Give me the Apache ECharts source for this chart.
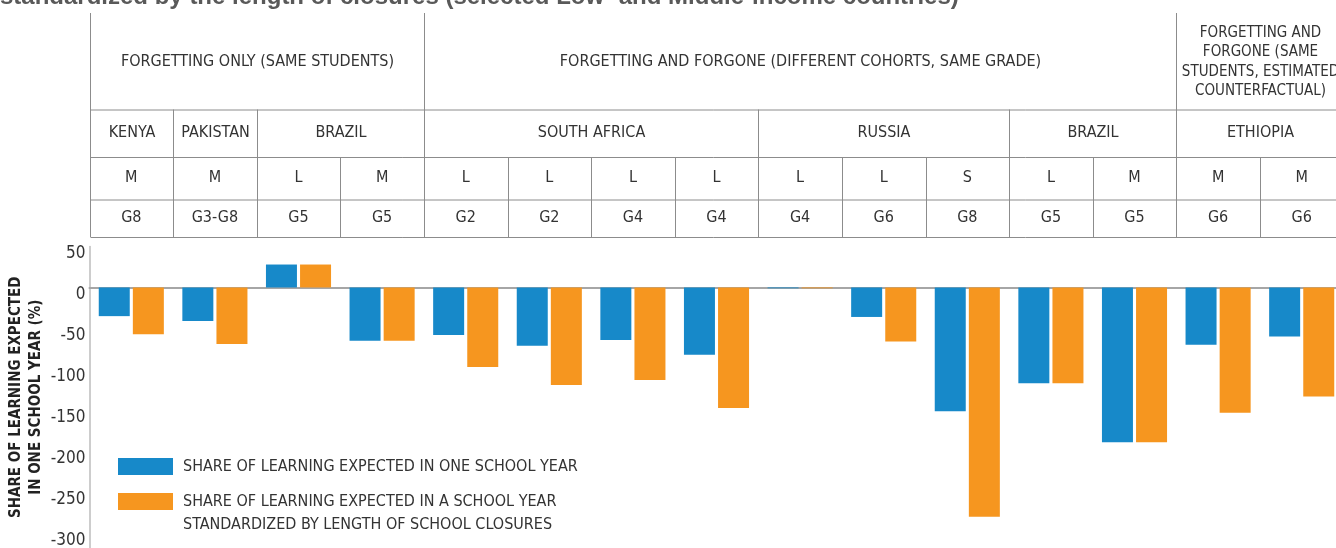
<!DOCTYPE html>
<html>
<head>
<meta charset="utf-8">
<script src="https://cdn.jsdelivr.net/npm/echarts@6/dist/echarts.min.js"></script>
<style>
  html, body { margin: 0; padding: 0; background: #fff; }
  #chart { width: 1336px; height: 548px; }
</style>
</head>
<body>
<div id="chart"></div>
<script>
// data
var categories = ['Kenya M G8', 'Pakistan M G3-G8', 'Brazil L G5', 'Brazil M G5',
  'South Africa L G2', 'South Africa L G2 ', 'South Africa L G4', 'South Africa L G4 ',
  'Russia L G4', 'Russia L G6', 'Russia S G8', 'Brazil L G5 ', 'Brazil M G5 ',
  'Ethiopia M G6', 'Ethiopia M G6 '];
var oneYearShare = [-35, -41, 28, -65, -58, -71, -64, -82, -1, -36, -151, -117, -189, -70, -60];
var standardizedShare = [-57, -69, 28, -65, -97, -119, -113, -147, -1, -66, -280, -117, -189, -153, -133];

// header table
var groupLabels = ['FORGETTING ONLY (SAME STUDENTS)',
  'FORGETTING AND FORGONE (DIFFERENT COHORTS, SAME GRADE)',
  'FORGETTING AND\nFORGONE (SAME\nSTUDENTS, ESTIMATED\nCOUNTERFACTUAL)'];
var groupSpans = [4, 9, 2];
var countryLabels = ['KENYA', 'PAKISTAN', 'BRAZIL', 'SOUTH AFRICA', 'RUSSIA', 'BRAZIL', 'ETHIOPIA'];
var countrySpans = [1, 1, 2, 4, 3, 2, 2];
var closureLengths = ['M', 'M', 'L', 'M', 'L', 'L', 'L', 'L', 'L', 'L', 'S', 'L', 'M', 'M', 'M'];
var grades = ['G8', 'G3-G8', 'G5', 'G5', 'G2', 'G2', 'G4', 'G4', 'G4', 'G6', 'G8', 'G5', 'G5', 'G6', 'G6'];
var yTicks = [50, 0, -50, -100, -150, -200, -250, -300];

var seriesNames = ['SHARE OF LEARNING EXPECTED IN ONE SCHOOL YEAR',
  'SHARE OF LEARNING EXPECTED IN A SCHOOL YEAR\nSTANDARDIZED BY LENGTH OF SCHOOL CLOSURES'];

var FONT = '"DejaVu Sans Condensed", "Liberation Sans Narrow", sans-serif';
var TEXT = '#333333';
var LINE = '#8c8c8c';

var chart = echarts.init(document.getElementById('chart'), null, { renderer: 'canvas' });

// shared legend look; one legend per item so the two-line label can hang below its swatch
var legendBase = {
  orient: 'vertical',
  left: 118,
  padding: 0,
  itemWidth: 55,
  itemHeight: 17,
  icon: 'rect',
  textStyle: { fontSize: 16, color: TEXT, lineHeight: 23, fontFamily: FONT, padding: [0, 0, 0, 5] }
};

var option = {
  animation: false,
  color: ['#1789c9', '#f6961f'],
  textStyle: { fontFamily: FONT },
  grid: { left: 89.5, right: -7.5, top: 246.5, bottom: 0, outerBoundsMode: 'none', containLabel: false },
  legend: [
    Object.assign({}, legendBase, { top: 455, data: [seriesNames[0]] }),
    Object.assign({}, legendBase, {
      top: 467,
      data: [seriesNames[1]],
      formatter: function (name) { return ' \n' + name; }
    })
  ],
  xAxis: {
    type: 'category',
    data: categories,
    axisLine: { lineStyle: { color: '#a6a6a6', width: 2 } },
    axisTick: { show: false },
    axisLabel: { show: false },
    splitLine: { show: false }
  },
  yAxis: {
    type: 'value',
    min: -318,
    max: 50,
    name: 'SHARE OF LEARNING EXPECTED\nIN ONE SCHOOL YEAR (%)',
    nameLocation: 'middle',
    nameRotate: 90,
    nameGap: 43,
    nameMoveOverlap: false,
    nameTextStyle: { fontSize: 15, fontWeight: 'bold', color: '#222', lineHeight: 20, fontFamily: FONT },
    axisLine: { show: true, lineStyle: { color: '#bdbdbd', width: 1.5 } },
    axisTick: { show: false },
    splitLine: { show: false },
    axisLabel: {
      customValues: yTicks,
      fontSize: 17,
      color: TEXT,
      margin: 4,
      verticalAlign: 'top',
      lineHeight: 15,
      fontFamily: FONT
    }
  },
  series: [
    { name: seriesNames[0], type: 'bar', data: oneYearShare, barWidth: 31, barGap: '10%' },
    { name: seriesNames[1], type: 'bar', data: standardizedShare, barWidth: 31, barGap: '10%' }
  ]
};

chart.setOption(option);

// draw the header table above the plot, aligned to the category axis
function buildHeader() {
  var rows = [13, 109.5, 157, 199.5, 237];
  var centers = categories.map(function (c, i) { return chart.convertToPixel({ xAxisIndex: 0 }, i); });
  var colW = centers[1] - centers[0];
  var left = Math.round(centers[0] - colW / 2) + 0.5;
  var right = centers[centers.length - 1] + colW / 2;
  function edge(i) { return Math.round(centers[0] - colW / 2 + i * colW) + 0.5; }
  var els = [];
  function line(x1, y1, x2, y2) {
    els.push({ type: 'line', silent: true, shape: { x1: x1, y1: y1, x2: x2, y2: y2 },
      style: { stroke: LINE, lineWidth: 1 } });
  }
  function text(str, x, y, size, lh) {
    els.push({ type: 'text', silent: true, x: x, y: y,
      style: { text: str, fill: TEXT, font: (size || 16) + 'px ' + FONT, textAlign: 'center', align: 'center',
        textVerticalAlign: 'middle', verticalAlign: 'middle', lineHeight: lh || 19 } });
  }
  for (var r = 1; r < rows.length; r++) line(left, rows[r] + 0.5, right, rows[r] + 0.5);
  line(left, rows[0], left, rows[4]);

  var start = 0;
  groupSpans.forEach(function (span, g) {
    var x0 = edge(start), x1 = edge(start + span);
    var multi = groupLabels[g].indexOf('\n') >= 0;
    text(groupLabels[g], (x0 + x1) / 2, (rows[0] + rows[1]) / 2 + 1, multi ? 15 : 16, 19.5);
    if (g > 0) line(x0, rows[0], x0, rows[4]);
    start += span;
  });
  start = 0;
  countrySpans.forEach(function (span, c) {
    var x0 = edge(start), x1 = edge(start + span);
    text(countryLabels[c], (x0 + x1) / 2, (rows[1] + rows[2]) / 2);
    if (c > 0) line(x0, rows[1], x0, rows[4]);
    start += span;
  });
  closureLengths.forEach(function (s, i) {
    text(s, centers[i], (rows[2] + rows[3]) / 2);
    text(grades[i], centers[i], (rows[3] + rows[4]) / 2);
    if (i > 0) line(edge(i), rows[2], edge(i), rows[4]);
  });

  els.push({ type: 'text', silent: true, x: 0, y: 9,
    style: { text: 'standardized by the length of closures (selected Low- and Middle-income countries)',
      fill: '#595959', font: 'bold 24px "Liberation Sans", Arial, sans-serif',
      textVerticalAlign: 'bottom', verticalAlign: 'bottom' } });

  chart.setOption({ graphic: { elements: els } });
}
buildHeader();
</script>
</body>
</html>
